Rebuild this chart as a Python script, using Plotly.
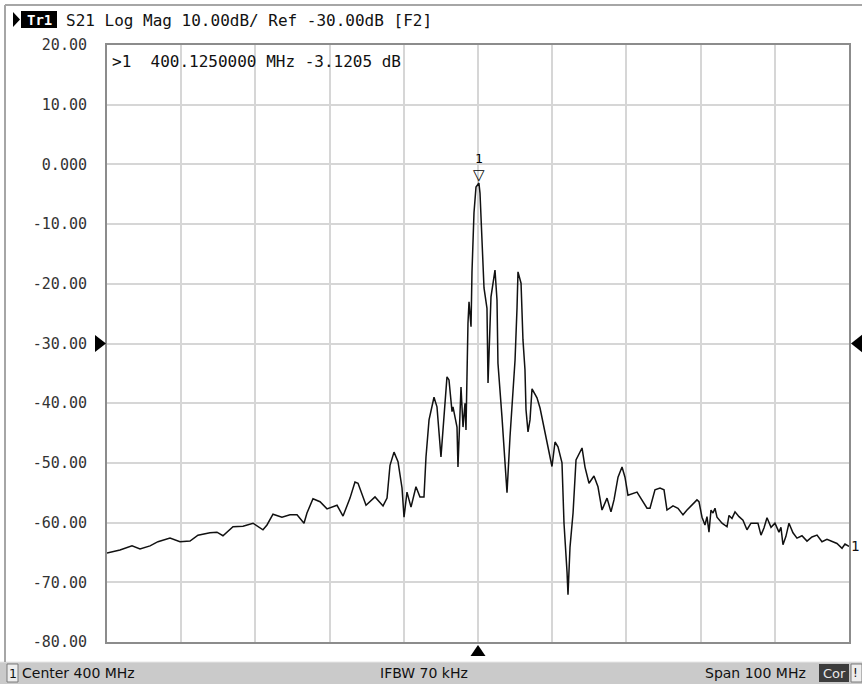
import plotly.graph_objects as go

# ---------------- data ----------------
freq_mhz = [
    350.00, 351.75, 353.37, 354.45, 355.80, 356.87, 358.49, 359.84, 361.19, 362.26,
    363.88, 364.82, 365.63, 366.98, 368.33, 369.68, 371.02, 371.56, 372.37, 373.58,
    374.66, 375.61, 376.55, 376.95, 377.76, 378.71, 379.65, 381.00, 381.81, 382.75,
    383.42, 383.83, 384.91, 386.12, 387.20, 387.74, 388.14, 388.68, 389.22, 389.76,
    390.03, 390.43, 390.97, 391.64, 392.18, 392.72, 392.99, 393.40, 394.07, 394.47,
    395.01, 395.28, 395.82, 396.09, 396.50, 396.63, 397.17, 397.30, 397.71, 397.98,
    398.25, 398.38, 398.52, 398.65, 398.79, 399.06, 399.19, 399.46, 399.73, 400.125,
    400.27, 400.54, 400.81, 401.21, 401.35, 401.75, 402.29, 402.56, 402.69, 403.23,
    403.64, 403.91, 404.31, 404.99, 405.26, 405.39, 405.80, 406.06, 406.33, 406.47,
    406.74, 407.01, 407.28, 407.95, 408.36, 408.89, 409.43, 409.97, 410.38, 410.78,
    411.32, 411.59, 412.00, 412.13, 412.40, 412.81, 413.21, 414.02, 414.42, 414.96,
    415.63, 416.17, 416.71, 417.39, 417.92, 418.33, 418.87, 419.41, 419.81, 420.21,
    421.43, 422.10, 422.78, 423.18, 423.85, 424.53, 425.07, 425.47, 426.28, 426.95,
    427.63, 428.17, 428.84, 429.51, 429.78, 430.19, 430.59, 430.86, 431.13, 431.40,
    431.67, 431.94, 432.21, 432.89, 433.56, 433.83, 434.23, 434.64, 435.18, 435.71,
    436.25, 436.79, 437.73, 438.14, 438.54, 438.95, 439.49, 440.02, 440.56, 440.83,
    441.10, 441.50, 441.91, 442.45, 442.99, 443.66, 444.34, 445.01, 445.69, 446.36,
    447.03, 447.71, 448.38, 449.06, 449.46, 450.00,
]
s21_db = [
    -65.1, -64.6, -63.9, -64.4, -63.9, -63.2, -62.6, -63.2, -63.1, -62.1,
    -61.7, -61.6, -62.2, -60.7, -60.6, -60.1, -61.2, -60.4, -58.6, -59.1,
    -58.7, -58.7, -60.1, -58.4, -56.0, -56.5, -57.7, -57.1, -58.9, -55.9,
    -53.2, -53.4, -57.1, -55.7, -57.2, -55.9, -50.4, -48.2, -49.8, -54.2,
    -59.1, -54.9, -57.4, -54.0, -55.7, -55.7, -49.0, -42.8, -39.0, -40.6,
    -49.0, -44.2, -35.6, -36.1, -41.4, -40.6, -44.0, -50.7, -37.3, -44.0,
    -40.0, -44.5, -33.1, -26.6, -23.0, -27.2, -18.0, -8.1, -3.8, -3.12,
    -4.8, -12.7, -20.7, -24.1, -36.6, -22.2, -17.7, -22.7, -33.3, -42.3,
    -50.0, -55.0, -45.7, -32.8, -24.0, -18.0, -19.9, -29.4, -34.4, -41.1,
    -44.8, -42.8, -37.6, -39.1, -40.8, -44.0, -47.3, -50.6, -46.5, -47.3,
    -50.0, -60.1, -68.3, -72.1, -64.1, -58.4, -49.5, -47.5, -50.7, -53.4,
    -52.2, -54.0, -57.9, -55.9, -58.2, -56.2, -52.4, -50.7, -52.4, -55.4,
    -54.9, -56.2, -57.6, -57.6, -54.5, -54.2, -54.5, -57.9, -57.2, -57.6,
    -58.7, -57.9, -57.1, -56.2, -56.5, -59.1, -60.4, -59.0, -61.6, -57.9,
    -58.4, -57.6, -59.1, -60.1, -60.7, -58.8, -59.3, -58.2, -59.0, -59.6,
    -61.2, -60.1, -60.1, -62.1, -60.9, -59.2, -60.8, -60.1, -61.6, -60.8,
    -63.7, -62.3, -60.1, -61.7, -62.6, -62.2, -63.1, -62.4, -62.1, -63.2,
    -62.8, -63.2, -63.5, -64.3, -63.6, -64.0,
]
y_ticks = [20, 10, 0, -10, -20, -30, -40, -50, -60, -70, -80]
y_ticktext = ["20.00", "10.00", "0.000", "-10.00", "-20.00", "-30.00",
              "-40.00", "-50.00", "-60.00", "-70.00", "-80.00"]
y_min, y_max = -80, 20
start_mhz, stop_mhz, center_mhz = 350, 450, 400
ref_level_db = -30
marker_freq_mhz = 400.125
marker_db = -3.1205

title_text = "S21 Log Mag 10.00dB/ Ref -30.00dB [F2]"
status_left = "Center 400 MHz"
status_mid = "IFBW 70 kHz"
status_right = "Span 100 MHz"

# ---------------- layout helpers (pixel -> paper) ----------------
W, H = 862, 684
L, R, T, B = 107, 849, 45, 642


def px(x):
    return (x - L) / (R - L)


def py(y):
    return (B - y) / (B - T)


ref_frac = (ref_level_db - y_min) / (y_max - y_min)
center_frac = (center_mhz - start_mhz) / (stop_mhz - start_mhz)

MONO = "DejaVu Sans Mono"
SANS = "DejaVu Sans"

fig = go.Figure()
fig.add_trace(go.Scatter(
    x=freq_mhz, y=s21_db, mode="lines",
    line=dict(color="#111111", width=1.5),
    hoverinfo="skip", showlegend=False,
))

shapes = []
# status bar
shapes.append(dict(type="rect", xref="paper", yref="paper",
                   x0=px(0), x1=px(W), y0=py(H + 2), y1=py(662),
                   fillcolor="#cacaca", line=dict(width=0), layer="below"))
shapes.append(dict(type="line", xref="paper", yref="paper",
                   x0=px(0), x1=px(W), y0=py(662), y1=py(662),
                   line=dict(color="#e6e6e6", width=1)))
# outer frame lines
shapes.append(dict(type="line", xref="paper", yref="paper",
                   x0=px(5), x1=px(5), y0=py(5), y1=py(662),
                   line=dict(color="#a6a6a6", width=2)))
shapes.append(dict(type="line", xref="paper", yref="paper",
                   x0=px(5), x1=px(W), y0=py(5), y1=py(5),
                   line=dict(color="#a6a6a6", width=2)))
# "1" channel box
shapes.append(dict(type="rect", xref="paper", yref="paper",
                   x0=px(7), x1=px(18), y0=py(682), y1=py(664),
                   fillcolor="#ededed", line=dict(color="#7a7a7a", width=1)))
# "Cor" box
shapes.append(dict(type="rect", xref="paper", yref="paper",
                   x0=px(819), x1=px(849), y0=py(682), y1=py(664),
                   fillcolor="#3c3c3c", line=dict(width=0)))
shapes.append(dict(type="rect", xref="paper", yref="paper",
                   x0=px(851), x1=px(862), y0=py(682), y1=py(664),
                   fillcolor="#ededed", line=dict(color="#7a7a7a", width=1)))
# Tr1 box in the title bar
shapes.append(dict(type="rect", xref="paper", yref="paper",
                   x0=px(21), x1=px(57), y0=py(28), y1=py(11),
                   fillcolor="#000000", line=dict(width=0)))
shapes.append(dict(type="path", xref="paper", yref="paper",
                   path=f"M {px(13)},{py(12)} L {px(20)},{py(19.5)} L {px(13)},{py(27)} Z",
                   fillcolor="#000000", line=dict(width=0)))
# reference level arrows and center arrow (paper refs so they are not clipped)
shapes.append(dict(type="path", xref="paper", yref="paper",
                   xsizemode="pixel", ysizemode="pixel",
                   xanchor=0, yanchor=ref_frac,
                   path="M -12,-8.5 L -1,0 L -12,8.5 Z",
                   fillcolor="#000000", line=dict(width=0)))
shapes.append(dict(type="path", xref="paper", yref="paper",
                   xsizemode="pixel", ysizemode="pixel",
                   xanchor=1, yanchor=ref_frac,
                   path="M 14,-9.5 L 2,0 L 14,9.5 Z",
                   fillcolor="#000000", line=dict(width=0)))
shapes.append(dict(type="path", xref="paper", yref="paper",
                   xsizemode="pixel", ysizemode="pixel",
                   xanchor=center_frac, yanchor=0,
                   path="M -7.5,-14 L 0,-3 L 7.5,-14 Z",
                   fillcolor="#000000", line=dict(width=0)))

annotations = []
annotations.append(dict(xref="paper", yref="paper", x=px(39), y=py(19.5),
                        text="<b>Tr1</b>", showarrow=False,
                        font=dict(family=MONO, size=14, color="#ffffff"),
                        xanchor="center", yanchor="middle"))
annotations.append(dict(xref="paper", yref="paper", x=px(64), y=py(20),
                        text=title_text, showarrow=False,
                        font=dict(family=MONO, size=16, color="#111111"),
                        xanchor="left", yanchor="middle"))
annotations.append(dict(xref="paper", yref="paper", x=px(110), y=py(61),
                        text=f">1  {marker_freq_mhz:.7f} MHz {marker_db:.4f} dB",
                        showarrow=False,
                        font=dict(family=MONO, size=16, color="#111111"),
                        xanchor="left", yanchor="middle"))
# peak marker
annotations.append(dict(xref="x", yref="y", x=marker_freq_mhz, y=marker_db,
                        text="▽", showarrow=False, yanchor="bottom", yshift=-3,
                        font=dict(family=SANS, size=15, color="#000000")))
annotations.append(dict(xref="x", yref="y", x=marker_freq_mhz, y=marker_db,
                        text="1", showarrow=False, yanchor="bottom", yshift=15,
                        font=dict(family=MONO, size=13, color="#000000")))
# trace end label
annotations.append(dict(xref="x", yref="y", x=stop_mhz, y=s21_db[-1],
                        text="1", showarrow=False, xanchor="left", xshift=0,
                        font=dict(family=MONO, size=14, color="#111111")))
# status bar texts
annotations.append(dict(xref="paper", yref="paper", x=px(12.5), y=py(673),
                        text="1", showarrow=False, xanchor="center", yanchor="middle",
                        font=dict(family=SANS, size=12.5, color="#111111")))
annotations.append(dict(xref="paper", yref="paper", x=px(20), y=py(673),
                        text=status_left, showarrow=False, xanchor="left", yanchor="middle",
                        font=dict(family=SANS, size=14, color="#111111")))
annotations.append(dict(xref="paper", yref="paper", x=px(378), y=py(673),
                        text=status_mid, showarrow=False, xanchor="left", yanchor="middle",
                        font=dict(family=SANS, size=14, color="#111111")))
annotations.append(dict(xref="paper", yref="paper", x=px(808), y=py(673),
                        text=status_right, showarrow=False, xanchor="right", yanchor="middle",
                        font=dict(family=SANS, size=14, color="#111111")))
annotations.append(dict(xref="paper", yref="paper", x=px(834), y=py(673),
                        text="Cor", showarrow=False, xanchor="center", yanchor="middle",
                        font=dict(family=SANS, size=13, color="#e8e8e8")))
annotations.append(dict(xref="paper", yref="paper", x=px(855.5), y=py(673),
                        text="!", showarrow=False, xanchor="center", yanchor="middle",
                        font=dict(family=SANS, size=12, color="#111111")))

fig.update_layout(
    width=W, height=H,
    margin=dict(l=L, r=W - R, t=T, b=H - B, pad=0),
    paper_bgcolor="#ffffff", plot_bgcolor="#ffffff",
    shapes=shapes, annotations=annotations,
    showlegend=False,
    xaxis=dict(range=[start_mhz, stop_mhz], dtick=10, tick0=start_mhz,
               showticklabels=False, ticks="",
               showgrid=True, gridcolor="#d6d6d6", gridwidth=2,
               showline=True, linecolor="#8c8c8c", linewidth=2, mirror=True,
               zeroline=False, fixedrange=True),
    yaxis=dict(range=[y_min, y_max], tickvals=y_ticks, ticktext=y_ticktext,
               ticks="outside", ticklen=15, tickcolor="rgba(0,0,0,0)",
               tickfont=dict(family=MONO, size=15, color="#333333"),
               showgrid=True, gridcolor="#d6d6d6", gridwidth=2,
               showline=True, linecolor="#8c8c8c", linewidth=2, mirror=True,
               zeroline=False, fixedrange=True),
)

fig.write_html(
    "out.html",
    config={"displayModeBar": False, "staticPlot": True},
    post_script="document.body.style.margin='0';document.body.style.overflow='hidden';",
)
